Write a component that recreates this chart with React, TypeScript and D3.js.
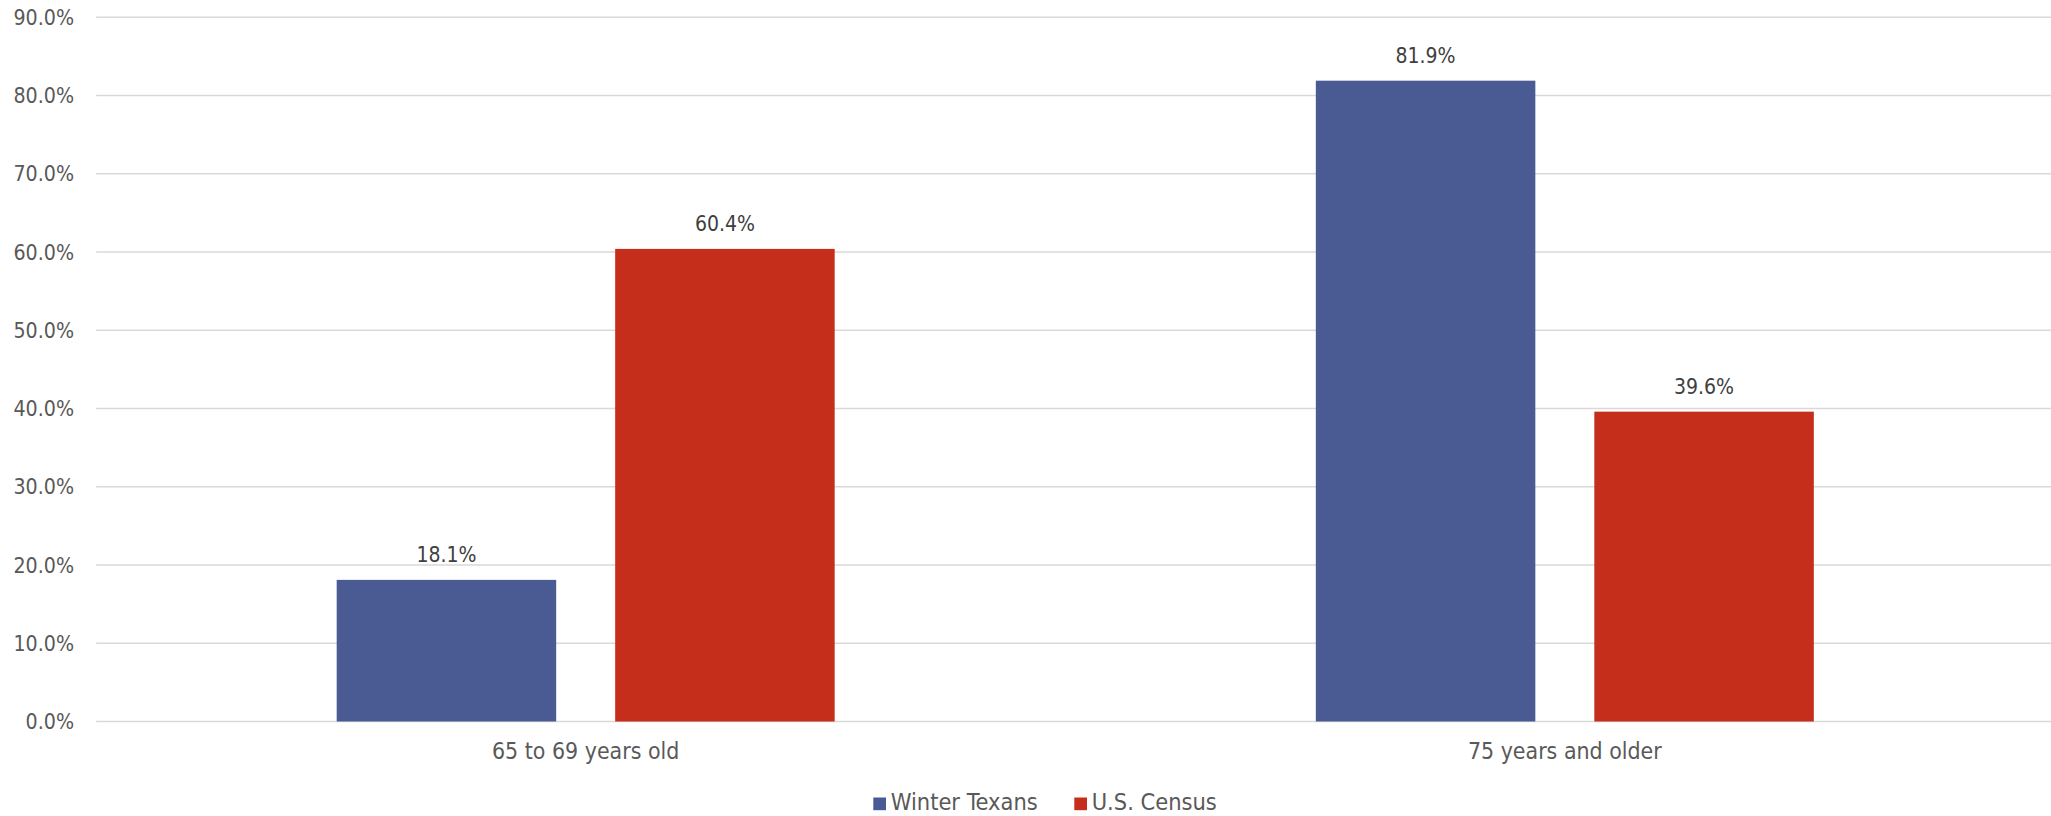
import React from "react";
import * as d3 from "d3";

const categories = ["65 to 69 years old", "75 years and older"];
const seriesNames = ["Winter Texans", "U.S. Census"];
const winterTexans = [18.1, 81.9];
const usCensus = [60.4, 39.6];
const yTicks = [0, 10, 20, 30, 40, 50, 60, 70, 80, 90];
const colors = ["#4A5B94", "#C42E1B"];

const W = 2051;
const H = 816;
const FONT = "'DejaVu Sans Condensed', 'DejaVu Sans', sans-serif";

export default function App() {
  const series = [winterTexans, usCensus];
  const x = d3.scaleBand<string>().domain(categories).range([96.1, 2054.4]).padding(0);
  const xs = d3
    .scaleBand<string>()
    .domain(seriesNames)
    .range([-249, 249])
    .paddingInner(0.2118)
    .paddingOuter(0);
  const y = d3.scaleLinear().domain([0, 90]).range([721.5, 17.3]);
  const fmt = (v: number) => v.toFixed(1) + "%";

  return (
    <svg
      width={W}
      height={H}
      style={{ position: "absolute", left: 0, top: 0, background: "#fff" }}
      fontFamily={FONT}
    >
      {yTicks.map((t) => (
        <g key={t}>
          <line x1={96.1} x2={W} y1={y(t)} y2={y(t)} stroke="#d9d9d9" strokeWidth={1.5} />
          <text x={74} y={y(t)} dy="0.36em" textAnchor="end" fontSize={21.2} fill="#595959">
            {fmt(t)}
          </text>
        </g>
      ))}
      {categories.map((c, ci) => {
        const cx = (x(c) as number) + x.bandwidth() / 2;
        return (
          <g key={c}>
            {series.map((s, si) => {
              const bx = cx + (xs(seriesNames[si]) as number);
              const v = s[ci];
              return (
                <g key={si}>
                  <rect
                    x={bx}
                    y={y(v)}
                    width={xs.bandwidth()}
                    height={y(0) - y(v)}
                    fill={colors[si]}
                  />
                  <text
                    x={bx + xs.bandwidth() / 2}
                    y={y(v) - 17.5}
                    textAnchor="middle"
                    fontSize={21}
                    fill="#404040"
                  >
                    {fmt(v)}
                  </text>
                </g>
              );
            })}
            <text x={cx} y={759.3} textAnchor="middle" fontSize={22.9} fill="#595959">
              {c}
            </text>
          </g>
        );
      })}
      <g>
        {[
          { x: 873.3, tx: 890.7 },
          { x: 1074.3, tx: 1091.7 },
        ].map((p, i) => (
          <g key={i}>
            <rect x={p.x} y={797.5} width={12.7} height={12.7} fill={colors[i]} />
            <text x={p.tx} y={810} fontSize={23.4} fill="#595959">
              {seriesNames[i]}
            </text>
          </g>
        ))}
      </g>
    </svg>
  );
}
